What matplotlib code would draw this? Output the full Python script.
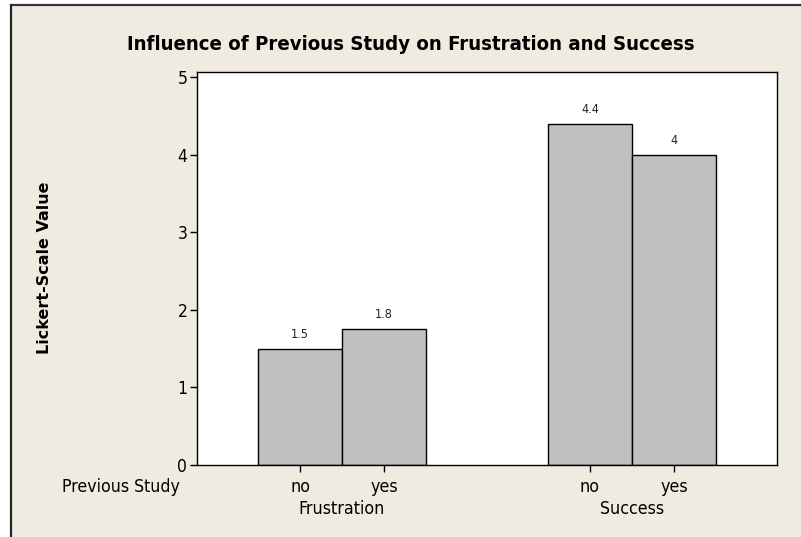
import matplotlib
matplotlib.use("Agg")
import matplotlib.pyplot as plt
from matplotlib.patches import Rectangle
from matplotlib.lines import Line2D
import matplotlib.transforms as mtransforms

groups = ["Frustration", "Success"]
levels = ["no", "yes"]
values = [1.5, 1.75, 4.4, 4.0]
value_labels = ["1.5", "1.8", "4.4", "4"]
yticks = [0, 1, 2, 3, 4, 5]

plt.rcParams['font.family'] = ["DejaVu Sans"]
plt.rcParams['font.stretch'] = "condensed"

W, H = 801, 537
fig = plt.figure(figsize=(W / 100, H / 100), dpi=100)
fig.patch.set_facecolor("white")

# beige panel with dark top/left border
fig.patches.append(Rectangle((11 / W, 0), 1 - 11 / W, 1 - 5 / H, transform=fig.transFigure,
                             facecolor="#EFEBE1", edgecolor="none", zorder=-10))
fig.lines.append(Line2D([11 / W, 11 / W], [0, 1 - 5 / H], transform=fig.transFigure,
                        color="#222222", lw=1.6))
fig.lines.append(Line2D([11 / W, 1], [1 - 5 / H, 1 - 5 / H], transform=fig.transFigure,
                        color="#333333", lw=1.6))

ax = fig.add_axes([197 / W, (H - 465) / H, 580 / W, (465 - 72) / H])
ax.set_facecolor("white")

gap = 2.45
xpos = []
for gi in range(len(groups)):
    for li in range(len(levels)):
        xpos.append(gi * (len(levels) - 1 + gap) + li)

ax.bar(xpos, values, width=1.0, color="#C0C0C0", edgecolor="black", linewidth=1.0)
for x, v, lab in zip(xpos, values, value_labels):
    ax.text(x, v + 0.1, lab, ha="center", va="bottom", fontsize=9, color="#222222")

ax.set_xlim(xpos[0] - 0.5 - 0.726, xpos[-1] + 0.5 + 0.726)
ax.set_ylim(0, 5.064)
ax.set_yticks(yticks)
ax.set_yticklabels([str(t) for t in yticks], fontsize=12.5)
ax.set_xticks(xpos)
ax.set_xticklabels([])
ax.tick_params(axis="both", direction="out", length=5, width=1, color="black", pad=2)
for s in ax.spines.values():
    s.set_linewidth(1.0)
    s.set_color("black")

trans = mtransforms.blended_transform_factory(ax.transData, fig.transFigure)
for i, x in enumerate(xpos):
    ax.text(x, 1 - 487 / H, levels[i % len(levels)], transform=trans, ha="center",
            va="center", fontsize=12.8)
for gi, g in enumerate(groups):
    cx = (xpos[gi * len(levels)] + xpos[gi * len(levels) + len(levels) - 1]) / 2
    ax.text(cx, 1 - 509 / H, g, transform=trans, ha="center", va="center", fontsize=12.8)
fig.text(180 / W, 1 - 487 / H, "Previous Study", ha="right", va="center", fontsize=12.7)

fig.text(45 / W, 1 - 268 / H, "Lickert-Scale Value", rotation=90, ha="center", va="center",
         fontsize=11.5, fontweight="bold", fontstretch="normal")
fig.text(411 / W, 1 - 45 / H, "Influence of Previous Study on Frustration and Success",
         ha="center", va="center", fontsize=14.6, fontweight="bold")

fig.savefig("out.png", dpi=100)
